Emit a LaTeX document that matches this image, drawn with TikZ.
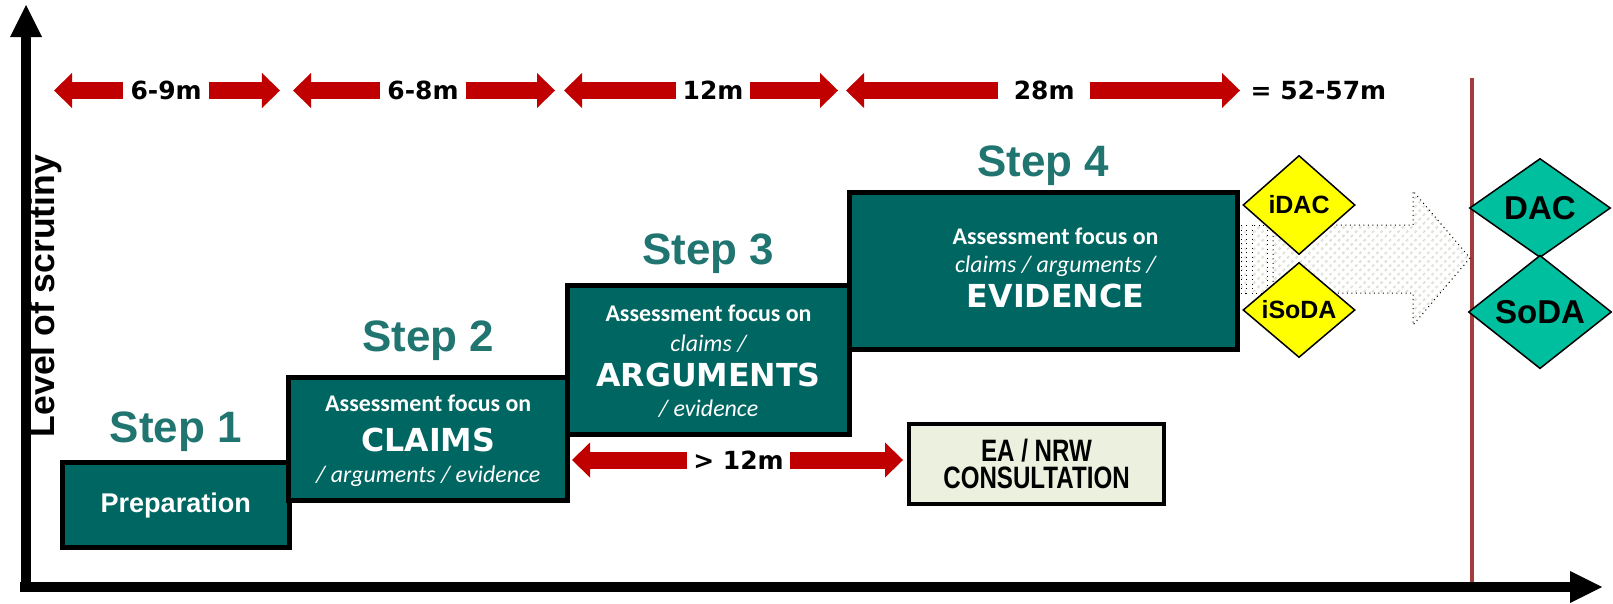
\documentclass[tikz,border=0pt]{standalone}
\usepackage{fontspec}
\setmainfont{Liberation Sans}
\newfontfamily\heavyfont{DejaVu Sans}
\newfontfamily\calfont{Carlito}
\newfontfamily\narrowfont{Liberation Sans}[FakeStretch=0.78]
\usetikzlibrary{arrows.meta,positioning,calc,shapes.geometric,patterns.meta}
\definecolor{st}{HTML}{006661}
\definecolor{sl}{HTML}{217570}
\definecolor{rd}{HTML}{C00000}
\definecolor{ln}{HTML}{A33D3D}
\definecolor{ye}{HTML}{FFFF00}
\definecolor{dt}{HTML}{00BF9F}
\definecolor{cs}{HTML}{EBF1DE}
\definecolor{ht}{HTML}{D9D9CB}

\begin{document}
\begin{tikzpicture}[x=0.01cm, y=-0.01cm,
  stepbox/.style={draw=black, line width=0.05cm, fill=st, inner sep=0pt, text=white},
  steplabel/.style={text=sl, inner sep=0pt, font=\fontsize{12.5pt}{14pt}\selectfont\bfseries},
  focusline/.style={anchor=base, text=white, inner sep=0pt, font=\calfont\fontsize{6.8pt}{8pt}\selectfont\bfseries},
  focusit/.style={anchor=base, text=white, inner sep=0pt, font=\calfont\fontsize{6.8pt}{8pt}\selectfont\itshape},
  bigword/.style={anchor=base, text=white, inner sep=0pt, font=\heavyfont\fontsize{9pt}{10pt}\selectfont\bfseries},
  durspan/.style={draw=rd, line width=0.17cm,
    {Triangle[length=0.18cm, width=0.35cm, line width=0pt]}-{Triangle[length=0.18cm, width=0.35cm, line width=0pt]}},
  durlabel/.style={fill=white, inner xsep=0pt, inner ysep=0.03cm, font=\heavyfont\fontsize{7.1pt}{8pt}\selectfont\bfseries},
  axisline/.style={line width=0.105cm, -{Triangle[length=0.32cm, width=0.32cm, line width=0pt]}},
  gate/.style={diamond, draw=black, line width=0.015cm, inner sep=0pt, font=\fontsize{7.1pt}{8pt}\selectfont\bfseries},
  hatch/.style={draw=black, densely dotted, line width=0.01cm,
    pattern={Lines[angle=45, distance=0.06cm, line width=0.02cm]}, pattern color=ht}
]
  \useasboundingbox (0,0) rectangle (1613,603);

  % durations on top
  \coordinate (t0) at (54,90.5);
  \coordinate (t1) at (280,90.5);
  \coordinate (t1b) at (293,90.5);
  \coordinate (t2) at (555,90.5);
  \coordinate (t2b) at (564,90.5);
  \coordinate (t3) at (838,90.5);
  \coordinate (t3b) at (846,90.5);
  \coordinate (t4) at (1240,90.5);
  \draw[durspan] (t0) -- node[durlabel, pos=0.496, minimum width=0.86cm] (d1) {6-9m} (t1);
  \draw[durspan] (t1b) -- node[durlabel, pos=0.496, minimum width=0.86cm] (d2) {6-8m} (t2);
  \draw[durspan] (t2b) -- node[durlabel, pos=0.544, minimum width=0.74cm] (d3) {12m} (t3);
  \draw[durspan] (t3b) -- node[durlabel, pos=0.503, minimum width=0.92cm] (d4) {28m} (t4);
  \node[durlabel, fill=none, inner sep=0pt, right=0.1cm of t4] (total) {= 52-57m};

  % gate line
  \draw[ln, line width=0.04cm] (1472,78) -- (1472,587);

  % the steps
  \node[stepbox, minimum width=2.265cm, minimum height=0.85cm,
    font=\fontsize{7.7pt}{9pt}\selectfont\bfseries] (box1) at (175.75,505) {Preparation};
  \node[stepbox, minimum width=2.785cm, minimum height=1.23cm] (box2) at (428.25,439) {};
  \node[stepbox, minimum width=2.82cm, minimum height=1.49cm] (box3) at (708.5,360) {};
  \node[stepbox, minimum width=3.88cm, minimum height=1.57cm] (box4) at (1043.5,271) {};

  \node[steplabel, above=0.08cm of box1] (step1) {Step 1};
  \node[steplabel, above=0.14cm of box2] (step2) {Step 2};
  \node[steplabel, above=0.09cm of box3] (step3) {Step 3};
  \node[steplabel, above=0.04cm of box4] (step4) {Step 4};

  \node[focusline] (f2) at ($(box2.north)+(0,37)$) {Assessment focus on};
  \node[bigword] (w2) at ($(box2.north)+(0,77)$) {CLAIMS};
  \node[focusit] (r2) at ($(box2.north)+(0,108)$) {/ arguments / evidence};

  \node[focusline] (f3) at ($(box3.north)+(0,39)$) {Assessment focus on};
  \node[focusit] (c3) at ($(box3.north)+(0,69)$) {claims /};
  \node[bigword] (w3) at ($(box3.north)+(0,104)$) {ARGUMENTS};
  \node[focusit] (r3) at ($(box3.north)+(0,134)$) {/ evidence};

  \node[focusline] (f4) at ($(box4.north)+(12,55)$) {Assessment focus on};
  \node[focusit] (c4) at ($(box4.north)+(12,83)$) {claims / arguments /};
  \node[bigword] (w4) at ($(box4.north)+(12,118)$) {EVIDENCE};

  % consultation
  \node[draw=black, line width=0.04cm, fill=cs, minimum width=2.55cm, minimum height=0.8cm,
    align=center, inner sep=0pt, font=\narrowfont\fontsize{8.8pt}{7.9pt}\selectfont\bfseries] (consult) at (1036.5,464)
    {EA / NRW\\CONSULTATION};
  \coordinate (c0) at (572,460);
  \coordinate (c1) at (903,460);
  \draw[durspan] (c0) -- node[durlabel, pos=0.503, minimum width=1.03cm] (d5) {> 12m} (c1);

  % hand-over arrow
  \draw[hatch] (1241,225) rectangle (1246,293);
  \draw[hatch] (1252,225) rectangle (1267,293);
  \draw[hatch] (1273,225) -- (1413,225) -- (1413,191) -- (1470,258) -- (1413,325) -- (1413,293) -- (1273,293) -- cycle;

  \node[gate, fill=ye, minimum width=1.12cm, minimum height=0.99cm] (idac) at (1299,205) {iDAC};
  \node[gate, fill=ye, minimum width=1.12cm, minimum height=0.95cm] (isoda) at (1299,310) {iSoDA};
  \node[gate, fill=dt, minimum width=1.41cm, minimum height=0.99cm,
    font=\fontsize{9.4pt}{11pt}\selectfont\bfseries] (dac) at (1540,208) {DAC};
  \node[gate, fill=dt, minimum width=1.43cm, minimum height=1.09cm,
    font=\fontsize{9.4pt}{11pt}\selectfont\bfseries] (soda) at (1540,312) {SoDA};

  % axes
  \draw[axisline] (26,592) -- (26,5);
  \draw[axisline] (20,587) -- (1602,587);
  \node[rotate=90, font=\fontsize{10.1pt}{12pt}\selectfont\bfseries] (lvl) at (45,296) {Level of scrutiny};
\end{tikzpicture}
\end{document}
